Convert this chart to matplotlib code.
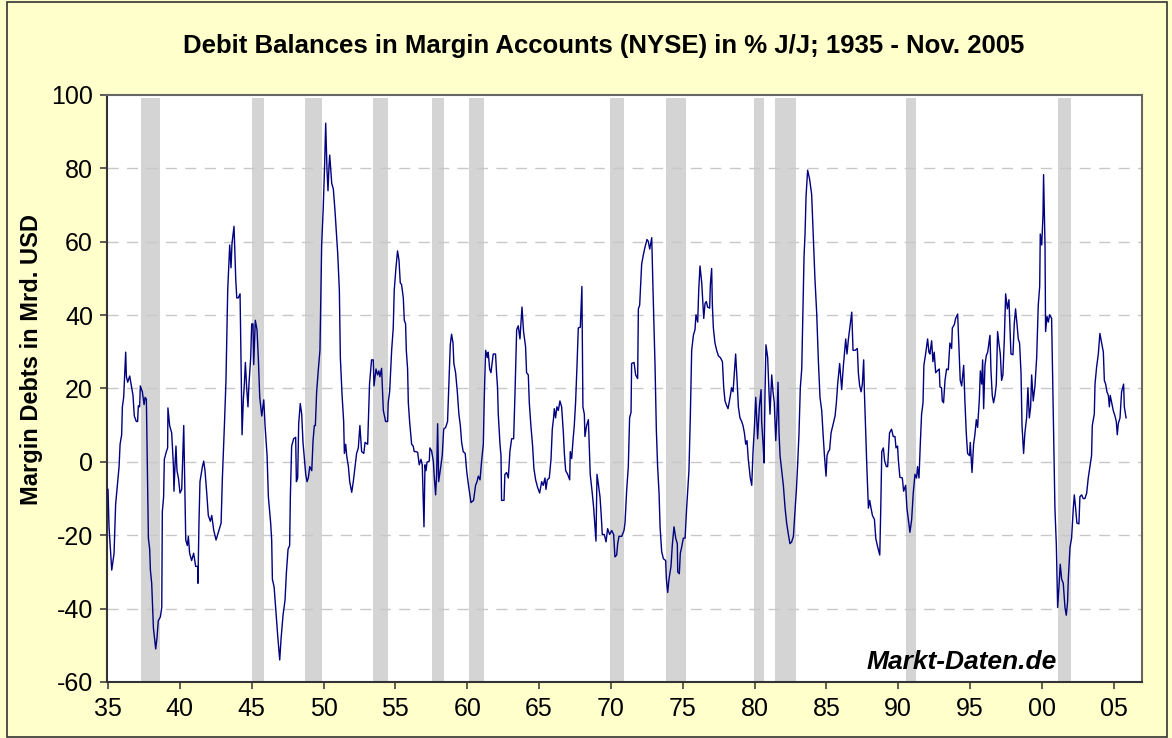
import matplotlib
matplotlib.use("Agg")
import matplotlib.pyplot as plt
from matplotlib.patches import Rectangle

plt.rcParams['font.family'] = ['Liberation Sans', 'DejaVu Sans']
plt.rcParams['axes.unicode_minus'] = False

# Jahreswachstum der Debit-Salden (NYSE) in %
years = [
    1935.0, 1935.07, 1935.26, 1935.42, 1935.53, 1935.77, 1935.84, 1935.95, 1936.0, 1936.09,
    1936.23, 1936.28, 1936.37, 1936.51, 1936.74, 1936.83, 1936.97, 1937.06, 1937.11, 1937.2,
    1937.25, 1937.39, 1937.51, 1937.58, 1937.67, 1937.74, 1937.81, 1937.9, 1937.95, 1938.04,
    1938.16, 1938.32, 1938.41, 1938.5, 1938.64, 1938.74, 1938.78, 1938.87, 1938.92, 1939.06,
    1939.15, 1939.17, 1939.29, 1939.43, 1939.55, 1939.59, 1939.66, 1939.73, 1939.8, 1939.9,
    1940.01, 1940.13, 1940.27, 1940.41, 1940.52, 1940.59, 1940.68, 1940.82, 1940.96, 1941.1,
    1941.24, 1941.26, 1941.33, 1941.4, 1941.57, 1941.66, 1941.75, 1941.87, 1941.98, 1942.12,
    1942.22, 1942.36, 1942.52, 1942.68, 1942.87, 1942.96, 1943.1, 1943.21, 1943.33, 1943.47,
    1943.56, 1943.63, 1943.77, 1943.89, 1943.96, 1944.07, 1944.19, 1944.26, 1944.33, 1944.42,
    1944.49, 1944.56, 1944.65, 1944.74, 1944.81, 1944.93, 1945.0, 1945.09, 1945.14, 1945.25,
    1945.37, 1945.46, 1945.56, 1945.7, 1945.84, 1945.93, 1946.07, 1946.16, 1946.32, 1946.39,
    1946.44, 1946.56, 1946.69, 1946.81, 1946.95, 1947.04, 1947.18, 1947.32, 1947.41, 1947.53,
    1947.64, 1947.69, 1947.78, 1947.92, 1948.06, 1948.11, 1948.2, 1948.27, 1948.38, 1948.48,
    1948.57, 1948.67, 1948.76, 1948.85, 1948.94, 1949.04, 1949.18, 1949.27, 1949.36, 1949.43,
    1949.52, 1949.64, 1949.75, 1949.87, 1949.98, 1950.08, 1950.15, 1950.24, 1950.31, 1950.38,
    1950.43, 1950.57, 1950.68, 1950.8, 1950.92, 1950.99, 1951.1, 1951.17, 1951.29, 1951.4,
    1951.45, 1951.54, 1951.61, 1951.73, 1951.82, 1951.96, 1952.07, 1952.19, 1952.3, 1952.42,
    1952.53, 1952.65, 1952.8, 1952.89, 1953.07, 1953.2, 1953.34, 1953.46, 1953.51, 1953.65,
    1953.76, 1953.85, 1953.92, 1954.04, 1954.16, 1954.32, 1954.46, 1954.5, 1954.6, 1954.74,
    1954.85, 1954.92, 1955.04, 1955.15, 1955.25, 1955.34, 1955.43, 1955.55, 1955.62, 1955.71,
    1955.76, 1955.85, 1955.9, 1955.99, 1956.13, 1956.24, 1956.31, 1956.43, 1956.55, 1956.66,
    1956.78, 1956.87, 1956.99, 1957.06, 1957.13, 1957.2, 1957.36, 1957.4, 1957.52, 1957.64,
    1957.71, 1957.8, 1957.87, 1957.94, 1958.01, 1958.12, 1958.26, 1958.36, 1958.5, 1958.63,
    1958.73, 1958.82, 1958.91, 1959.01, 1959.07, 1959.19, 1959.31, 1959.42, 1959.52, 1959.61,
    1959.72, 1959.86, 1959.96, 1960.07, 1960.26, 1960.44, 1960.58, 1960.68, 1960.77, 1960.89,
    1961.0, 1961.12, 1961.19, 1961.28, 1961.4, 1961.46, 1961.56, 1961.65, 1961.81, 1961.97,
    1962.04, 1962.11, 1962.16, 1962.28, 1962.35, 1962.39, 1962.56, 1962.62, 1962.74, 1962.86,
    1962.97, 1963.09, 1963.23, 1963.32, 1963.44, 1963.55, 1963.67, 1963.81, 1963.92, 1964.06,
    1964.13, 1964.25, 1964.32, 1964.43, 1964.55, 1964.64, 1964.76, 1964.9, 1965.04, 1965.18,
    1965.29, 1965.41, 1965.48, 1965.57, 1965.71, 1965.83, 1965.92, 1966.01, 1966.06, 1966.15,
    1966.24, 1966.34, 1966.45, 1966.57, 1966.69, 1966.76, 1966.85, 1966.99, 1967.13, 1967.17,
    1967.27, 1967.36, 1967.45, 1967.54, 1967.64, 1967.73, 1967.87, 1967.98, 1968.05, 1968.15,
    1968.19, 1968.31, 1968.43, 1968.56, 1968.7, 1968.8, 1968.89, 1968.96, 1969.03, 1969.12,
    1969.24, 1969.31, 1969.4, 1969.54, 1969.66, 1969.77, 1969.91, 1970.05, 1970.19, 1970.28,
    1970.4, 1970.47, 1970.56, 1970.75, 1970.91, 1970.98, 1971.1, 1971.21, 1971.3, 1971.4,
    1971.44, 1971.61, 1971.72, 1971.86, 1971.91, 1972.0, 1972.14, 1972.26, 1972.37, 1972.51,
    1972.6, 1972.7, 1972.84, 1972.93, 1973.07, 1973.16, 1973.25, 1973.35, 1973.42, 1973.53,
    1973.65, 1973.81, 1973.86, 1973.95, 1974.04, 1974.18, 1974.27, 1974.39, 1974.51, 1974.62,
    1974.65, 1974.76, 1974.83, 1974.92, 1975.04, 1975.16, 1975.27, 1975.43, 1975.53, 1975.62,
    1975.74, 1975.85, 1975.92, 1976.04, 1976.11, 1976.2, 1976.32, 1976.46, 1976.55, 1976.64,
    1976.73, 1976.87, 1976.92, 1977.01, 1977.06, 1977.13, 1977.24, 1977.36, 1977.48, 1977.62,
    1977.76, 1977.85, 1977.94, 1978.03, 1978.15, 1978.27, 1978.4, 1978.5, 1978.59, 1978.68,
    1978.78, 1978.87, 1978.98, 1979.1, 1979.19, 1979.29, 1979.38, 1979.47, 1979.56, 1979.7,
    1979.8, 1979.89, 1979.98, 1980.08, 1980.17, 1980.21, 1980.33, 1980.45, 1980.49, 1980.59,
    1980.66, 1980.72, 1980.79, 1980.91, 1981.0, 1981.07, 1981.19, 1981.28, 1981.37, 1981.47,
    1981.56, 1981.63, 1981.7, 1981.77, 1981.89, 1982.0, 1982.12, 1982.23, 1982.35, 1982.46,
    1982.58, 1982.7, 1982.77, 1982.84, 1982.91, 1983.0, 1983.09, 1983.18, 1983.28, 1983.37,
    1983.44, 1983.51, 1983.58, 1983.69, 1983.83, 1983.97, 1984.09, 1984.2, 1984.32, 1984.44,
    1984.55, 1984.67, 1984.76, 1984.86, 1984.97, 1985.04, 1985.13, 1985.22, 1985.32, 1985.41,
    1985.5, 1985.6, 1985.69, 1985.78, 1985.92, 1986.06, 1986.18, 1986.25, 1986.34, 1986.43,
    1986.53, 1986.66, 1986.76, 1986.85, 1986.99, 1987.15, 1987.22, 1987.31, 1987.41, 1987.5,
    1987.59, 1987.64, 1987.73, 1987.82, 1987.92, 1988.01, 1988.1, 1988.2, 1988.34, 1988.43,
    1988.57, 1988.71, 1988.78, 1988.85, 1988.96, 1989.05, 1989.17, 1989.26, 1989.39, 1989.53,
    1989.65, 1989.77, 1989.84, 1989.95, 1990.0, 1990.11, 1990.28, 1990.37, 1990.51, 1990.6,
    1990.7, 1990.81, 1990.93, 1991.04, 1991.16, 1991.27, 1991.34, 1991.44, 1991.53, 1991.62,
    1991.72, 1991.78, 1991.9, 1992.04, 1992.13, 1992.2, 1992.32, 1992.41, 1992.5, 1992.6,
    1992.71, 1992.85, 1992.9, 1993.01, 1993.06, 1993.15, 1993.25, 1993.36, 1993.48, 1993.59,
    1993.71, 1993.76, 1993.9, 1993.99, 1994.13, 1994.22, 1994.31, 1994.41, 1994.55, 1994.64,
    1994.73, 1994.82, 1994.96, 1995.01, 1995.13, 1995.24, 1995.33, 1995.43, 1995.52, 1995.64,
    1995.71, 1995.8, 1995.87, 1995.94, 1996.03, 1996.12, 1996.22, 1996.31, 1996.38, 1996.45,
    1996.54, 1996.63, 1996.73, 1996.82, 1996.91, 1997.0, 1997.1, 1997.19, 1997.28, 1997.38,
    1997.47, 1997.59, 1997.7, 1997.77, 1997.84, 1997.98, 1998.07, 1998.16, 1998.26, 1998.35,
    1998.44, 1998.54, 1998.61, 1998.72, 1998.81, 1998.93, 1999.02, 1999.12, 1999.21, 1999.28,
    1999.39, 1999.51, 1999.63, 1999.74, 1999.84, 1999.88, 1999.98, 2000.07, 2000.11, 2000.21,
    2000.25, 2000.35, 2000.44, 2000.53, 2000.67, 2000.79, 2000.9, 2001.0, 2001.09, 2001.18,
    2001.27, 2001.37, 2001.48, 2001.6, 2001.69, 2001.78, 2001.83, 2001.95, 2002.06, 2002.18,
    2002.25, 2002.34, 2002.43, 2002.57, 2002.64, 2002.76, 2002.87, 2002.99, 2003.11, 2003.22,
    2003.34, 2003.45, 2003.5, 2003.64, 2003.69, 2003.8, 2003.92, 2004.03, 2004.15, 2004.27,
    2004.34, 2004.43, 2004.52, 2004.62, 2004.69, 2004.75, 2004.85, 2004.96, 2005.08, 2005.17,
    2005.24, 2005.31, 2005.43, 2005.54, 2005.68, 2005.73, 2005.85,
]
debit_yoy = [
    -7.5, -17.7, -29.5, -25.0, -11.6, -1.3, 4.8, 7.4, 15.0, 17.6,
    29.9, 23.2, 21.7, 23.4, 18.1, 12.5, 11.0, 11.0, 15.3, 15.0,
    20.7, 19.1, 15.6, 17.6, 17.1, -2.4, -20.8, -23.8, -29.5, -33.1,
    -45.3, -51.0, -47.9, -43.3, -42.3, -39.7, -13.6, -9.5, 0.7, 2.8,
    3.8, 14.7, 9.9, 7.9, -0.8, -8.0, -1.3, 4.3, -2.4, -4.4,
    -8.5, -7.5, 9.9, -21.3, -22.8, -20.3, -24.9, -26.9, -24.9, -28.5,
    -28.5, -33.1, -16.7, -5.4, -1.3, 0.2, -2.4, -8.5, -14.6, -16.2,
    -14.6, -18.7, -21.3, -19.2, -16.7, -4.4, 9.9, 22.2, 46.8, 59.1,
    52.9, 59.6, 64.2, 49.8, 44.7, 44.7, 45.8, 26.3, 7.4, 17.1,
    21.2, 27.1, 20.2, 15.0, 21.2, 28.4, 37.6, 37.6, 26.5, 38.6,
    36.0, 28.4, 17.6, 12.5, 16.9, 9.9, 1.7, -9.5, -16.7, -21.3,
    -32.0, -34.1, -41.2, -47.4, -54.0, -48.4, -41.8, -37.7, -30.5, -23.8,
    -22.8, -9.5, 4.3, 6.3, 6.7, -5.4, -4.4, 10.4, 15.9, 13.0,
    5.3, 0.7, -3.4, -5.4, -4.4, -1.3, -2.4, 5.8, 9.9, 9.9,
    19.1, 25.3, 30.4, 59.1, 69.3, 81.6, 92.3, 79.5, 73.9, 80.6,
    83.6, 75.9, 74.4, 68.3, 61.1, 56.5, 46.8, 28.4, 18.1, 11.0,
    2.3, 4.8, 1.7, -1.3, -5.4, -8.3, -5.4, -1.3, 2.3, 3.8,
    9.9, 2.8, 2.3, 5.3, 4.8, 21.2, 27.8, 27.8, 20.7, 25.3,
    23.7, 24.8, 23.2, 25.5, 14.0, 11.0, 11.0, 16.1, 19.1, 30.4,
    36.5, 46.8, 52.9, 57.5, 55.0, 48.8, 48.3, 44.7, 38.6, 37.6,
    30.4, 25.3, 16.1, 11.0, 4.8, 4.3, 2.8, 2.8, 2.6, -0.8,
    0.7, -0.8, -17.7, -0.8, -2.4, -0.1, 0.2, 3.8, 3.0, 0.2,
    -4.4, -9.0, -3.4, 10.4, -5.4, -2.4, 1.7, 8.9, 9.4, 11.0,
    22.2, 31.9, 34.8, 32.4, 26.8, 24.3, 19.1, 13.0, 9.9, 5.3,
    2.8, 2.3, -2.4, -5.9, -11.1, -10.5, -6.4, -5.4, -3.9, -4.9,
    0.2, 4.8, 18.1, 30.4, 28.4, 29.9, 25.3, 24.3, 29.4, 29.4,
    24.3, 20.2, 13.0, 4.8, 1.7, -10.5, -10.5, -3.4, -2.9, -4.4,
    2.8, 6.3, 6.3, 18.1, 36.0, 37.1, 33.5, 42.2, 35.5, 31.4,
    24.3, 23.7, 16.1, 9.9, 4.3, -1.8, -4.9, -7.0, -8.5, -5.4,
    -6.4, -4.4, -7.5, -4.9, -4.4, 0.7, 8.9, 12.0, 14.5, 12.0,
    15.0, 14.0, 16.6, 15.0, 7.9, 2.3, -2.4, -3.4, -4.9, 2.8,
    0.9, 5.8, 9.9, 16.1, 26.3, 36.5, 36.7, 47.8, 15.0, 13.0,
    6.9, 9.9, 11.5, -3.4, -8.5, -12.6, -17.7, -21.6, -3.4, -5.9,
    -9.5, -13.6, -19.8, -19.8, -21.8, -18.2, -19.8, -18.7, -19.8, -25.9,
    -25.4, -22.3, -20.3, -20.3, -18.7, -16.7, -7.5, -1.3, 12.0, 13.5,
    26.8, 27.1, 23.7, 22.7, 41.7, 42.7, 53.9, 56.5, 58.5, 60.6,
    60.1, 58.0, 61.1, 46.8, 26.3, 8.9, -1.3, -8.5, -17.7, -24.4,
    -26.4, -26.9, -32.0, -35.6, -32.0, -28.5, -22.8, -17.7, -20.8, -22.3,
    -30.0, -30.5, -24.9, -23.3, -20.8, -20.8, -12.6, -2.4, 13.0, 30.4,
    34.5, 36.0, 40.1, 38.1, 46.8, 53.4, 48.8, 39.1, 43.2, 43.7,
    42.2, 41.9, 48.3, 52.7, 42.7, 36.5, 32.4, 30.4, 28.9, 28.4,
    27.3, 20.2, 16.6, 15.6, 14.5, 17.1, 20.2, 19.1, 24.3, 29.4,
    22.2, 15.0, 12.0, 11.0, 9.9, 7.9, 4.8, 5.8, 0.7, -4.4,
    -6.4, 2.8, 8.9, 17.6, 9.9, 6.3, 15.0, 19.7, 11.0, 4.8,
    -0.3, 18.1, 31.9, 28.4, 19.1, 13.0, 23.7, 19.1, 16.1, 5.8,
    13.0, 21.7, 7.9, 1.7, -2.4, -6.4, -12.6, -16.7, -19.8, -22.3,
    -21.8, -20.3, -15.7, -11.6, -7.5, -0.3, 7.9, 20.2, 25.3, 42.7,
    56.0, 62.1, 72.4, 79.5, 77.0, 72.9, 61.1, 49.8, 40.6, 27.3,
    17.6, 14.0, 7.9, 1.7, -3.9, 1.7, 2.8, 3.3, 7.9, 9.4,
    11.0, 12.5, 16.1, 21.2, 26.8, 19.7, 26.3, 29.4, 33.5, 29.4,
    33.5, 37.6, 40.8, 30.4, 30.4, 30.9, 24.3, 20.7, 19.1, 21.2,
    27.8, 19.1, 7.9, -2.4, -12.6, -10.5, -12.6, -14.6, -15.7, -20.8,
    -23.3, -25.4, -12.6, 2.8, 3.8, 0.2, -1.3, -1.3, 7.9, 8.9,
    6.9, 6.9, 3.8, 4.3, 0.7, -4.2, -4.4, -8.0, -6.4, -12.6,
    -15.7, -19.2, -15.7, -8.5, -3.4, -4.4, -1.3, -4.4, 4.8, 13.0,
    16.1, 26.3, 29.4, 33.5, 29.9, 29.4, 33.0, 27.3, 29.9, 24.3,
    24.8, 25.3, 20.4, 20.2, 16.6, 16.1, 22.2, 25.3, 25.1, 32.4,
    30.9, 36.5, 37.4, 39.1, 40.3, 31.4, 22.2, 20.7, 26.3, 16.1,
    7.9, 2.3, 1.7, 5.3, -2.9, 4.8, 7.4, 11.5, 9.4, 17.1,
    24.8, 21.2, 27.8, 14.5, 26.3, 28.9, 29.9, 32.4, 34.5, 24.8,
    18.1, 16.1, 18.1, 21.2, 35.5, 32.4, 29.4, 22.2, 23.7, 33.5,
    45.8, 41.7, 44.2, 37.1, 29.4, 29.2, 37.6, 41.7, 37.6, 33.5,
    32.4, 24.3, 9.9, 2.3, 7.9, 12.0, 20.2, 12.0, 15.0, 23.7,
    16.6, 20.7, 28.4, 42.7, 47.8, 62.1, 59.1, 67.2, 78.3, 59.1,
    35.5, 39.6, 38.1, 40.1, 39.1, 13.0, -12.6, -22.8, -39.7, -34.1,
    -27.9, -32.0, -33.1, -39.7, -41.8, -38.2, -32.0, -23.3, -20.8, -12.6,
    -9.0, -12.6, -16.7, -16.9, -9.5, -9.0, -10.0, -10.0, -8.5, -4.4,
    -1.3, 1.7, 9.9, 13.0, 21.2, 25.8, 29.4, 35.0, 32.4, 29.9,
    22.2, 21.2, 19.1, 18.1, 15.0, 18.1, 16.1, 14.0, 12.5, 11.0,
    7.4, 10.4, 12.0, 19.1, 21.2, 15.0, 12.0,
]

# US-Rezessionen (Beginn, Ende)
recession_start = [1937.30, 1945.02, 1948.71, 1953.44, 1957.54, 1960.12,
                   1969.93, 1973.83, 1979.96, 1981.42, 1990.53, 2001.11]
recession_end = [1938.62, 1945.86, 1949.90, 1954.48, 1958.38, 1961.16,
                 1970.91, 1975.23, 1980.66, 1982.88, 1991.23, 2002.02]

tick_years = [1935, 1940, 1945, 1950, 1955, 1960, 1965, 1970,
              1975, 1980, 1985, 1990, 1995, 2000, 2005]
tick_labels = ['35', '40', '45', '50', '55', '60', '65', '70',
               '75', '80', '85', '90', '95', '00', '05']

fig = plt.figure(figsize=(11.72, 7.38), dpi=100, facecolor='#FFFFCC')
ax = fig.add_axes([0.0913, 0.0759, 0.8831, 0.7954])
ax.set_facecolor('white')

# Rezessionsbalken
for s, e in zip(recession_start, recession_end):
    ax.axvspan(s, e, ymin=0, ymax=0.995, color='#D4D4D4', lw=0, zorder=1)

ax.plot(years, debit_yoy, color='#000080', lw=1.0, zorder=3)

ax.set_xlim(1934.93, 2006.96)
ax.set_ylim(-60, 100)
ax.set_yticks(range(-60, 101, 20))
ax.set_xticks(tick_years)
ax.set_xticklabels(tick_labels)
ax.tick_params(axis='both', direction='out', length=5, width=1.2,
               labelsize=18, color='#404040')
ax.tick_params(axis='x', pad=6)
ax.tick_params(axis='y', pad=5)

for v in range(-40, 100, 20):
    ax.axhline(v, color='#C8C8C8', lw=1.0, ls=(0, (8, 6)), zorder=2)

for side in ['left', 'bottom']:
    ax.spines[side].set_color('#333333')
    ax.spines[side].set_linewidth(1.5)
for side in ['top', 'right']:
    ax.spines[side].set_color('#666666')
    ax.spines[side].set_linewidth(1.5)

ax.set_ylabel('Margin Debts in Mrd. USD', fontsize=17, fontweight='bold')
ax.yaxis.set_label_coords(-0.062, 0.55)
fig.text(0.515, 0.937, 'Debit Balances in Margin Accounts (NYSE) in % J/J; 1935 - Nov. 2005',
         ha='center', va='center', fontsize=18.5, fontweight='bold')
ax.text(0.918, 0.013, 'Markt-Daten.de', transform=ax.transAxes, ha='right', va='bottom',
        fontsize=19, fontweight='bold', style='italic', zorder=4)

# Rahmen um das Diagramm
fig.patches.append(Rectangle((0.006, 0.002), 0.99, 0.995, transform=fig.transFigure,
                             fill=False, edgecolor='#333333', lw=1.2))

fig.savefig('out.png', dpi=100, facecolor=fig.get_facecolor())
